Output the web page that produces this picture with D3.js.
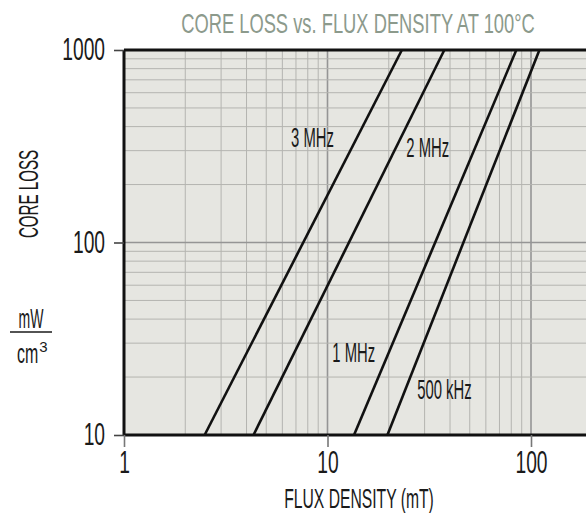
<html>
<head>
<script src="https://d3js.org/d3.v7.min.js"></script>
<style>body{margin:0;background:#fff;}</style>
</head>
<body>
<script>
var width = 586;
var height = 513;
var margin = {top: 50, right: 0, bottom: 78, left: 124};
var w = width - margin.left - margin.right;
var h = height - margin.top - margin.bottom;
var decade = 203.5;

// data
var xTicks = [1, 10, 100];
var yTicks = [10, 100, 1000];
var series = ["3 MHz", "2 MHz", "1 MHz", "500 kHz"];
var fluxAt10 = [2.49, 4.33, 13.5, 19.7];      // mT where loss = 10
var fluxAt1000 = [23.2, 37.5, 84.7, 110];     // mT where loss = 1000
var labelFlux = [6.62, 24.4, 10.56, 27.6];
var labelLoss = [313, 277, 24, 15.4];

var font = "'Liberation Sans',Arial,sans-serif";

var x = d3.scaleLog().domain([1, 1000]).range([0, 3 * decade]);
var y = d3.scaleLog().domain([10, 1000]).range([h, 0]);

var svg = d3.select("body").append("svg")
    .attr("width", width)
    .attr("height", height)
    .style("font-family", font);
var g = svg.append("g")
    .attr("transform", "translate(" + margin.left + "," + margin.top + ")");

// narrow the glyphs to mimic the condensed face of the original
function squish(sel, k) {
  sel.each(function() {
    var t = d3.select(this);
    var x0 = +(t.attr("x") || 0);
    var tr = t.attr("transform") || "";
    t.attr("x", x0 / k).attr("transform", tr + " scale(" + k + ",1)");
  });
}

// panel
g.append("rect").attr("width", w).attr("height", h).attr("fill", "#e6e6e1");

// grid
var vx = x.ticks().filter(function(d) { return d > 1 && d <= 100; });
g.append("g").selectAll("line").data(vx).enter().append("line")
  .attr("x1", function(d) { return x(d); }).attr("x2", function(d) { return x(d); })
  .attr("y1", 0).attr("y2", h)
  .attr("stroke", function(d) { return xTicks.indexOf(d) >= 0 ? "#959595" : "#b4b4b0"; })
  .attr("stroke-width", function(d) { return xTicks.indexOf(d) >= 0 ? 1.6 : 1; });
var hy = y.ticks().filter(function(d) { return d > 10 && d < 1000; });
g.append("g").selectAll("line").data(hy).enter().append("line")
  .attr("x1", 0).attr("x2", w)
  .attr("y1", function(d) { return y(d); }).attr("y2", function(d) { return y(d); })
  .attr("stroke", function(d) { return yTicks.indexOf(d) >= 0 ? "#959595" : "#b4b4b0"; })
  .attr("stroke-width", function(d) { return yTicks.indexOf(d) >= 0 ? 1.6 : 1; });

// curves
var curves = series.map(function(s, i) {
  return [[fluxAt10[i], 10], [fluxAt1000[i], 1000]];
});
var line = d3.line().x(function(d) { return x(d[0]); }).y(function(d) { return y(d[1]); });
g.append("g").selectAll("path").data(curves).enter().append("path")
  .attr("d", line)
  .attr("fill", "none")
  .attr("stroke", "#111")
  .attr("stroke-width", 2.6);

// frame
g.append("line").attr("x1", 0).attr("x2", w).attr("y1", 0).attr("y2", 0)
  .attr("stroke", "#111").attr("stroke-width", 3);
g.append("line").attr("x1", 0).attr("x2", w).attr("y1", h).attr("y2", h)
  .attr("stroke", "#111").attr("stroke-width", 3);
g.append("line").attr("x1", 0).attr("x2", 0).attr("y1", 0).attr("y2", h)
  .attr("stroke", "#111").attr("stroke-width", 3);

// axes
var xAxis = g.append("g")
  .attr("transform", "translate(0," + h + ")")
  .call(d3.axisBottom(x).tickValues(xTicks).tickFormat(d3.format("d")).tickSize(12).tickPadding(4));
xAxis.select(".domain").remove();
xAxis.selectAll(".tick line").attr("stroke", "#777").attr("stroke-width", 1.6);
xAxis.selectAll(".tick text")
  .attr("font-family", font).attr("font-size", 31).attr("fill", "#1a1a1a");
squish(xAxis.selectAll(".tick text"), 0.62);

var yAxis = g.append("g")
  .call(d3.axisLeft(y).tickValues(yTicks).tickFormat(d3.format("d")).tickSize(10).tickPadding(9));
yAxis.select(".domain").remove();
yAxis.selectAll(".tick line").attr("stroke", "#444").attr("stroke-width", 1.6);
yAxis.selectAll(".tick text")
  .attr("font-family", font).attr("font-size", 31).attr("fill", "#1a1a1a");
squish(yAxis.selectAll(".tick text"), 0.62);

// curve labels
var labels = g.append("g").selectAll("text").data(series).enter().append("text")
  .attr("x", function(d, i) { return x(labelFlux[i]); })
  .attr("y", function(d, i) { return y(labelLoss[i]); })
  .attr("font-size", 27)
  .attr("fill", "#1a1a1a")
  .text(function(d) { return d; });
squish(labels, 0.55);

// titles
var title = svg.append("text")
  .attr("x", 358).attr("y", 33)
  .attr("text-anchor", "middle")
  .attr("font-size", 28)
  .attr("fill", "#8c9a8c")
  .text("CORE LOSS vs. FLUX DENSITY AT 100°C");
squish(title, 0.655);

var xl = svg.append("text")
  .attr("x", 359).attr("y", 508)
  .attr("text-anchor", "middle")
  .attr("font-size", 28)
  .attr("fill", "#1a1a1a")
  .text("FLUX DENSITY (mT)");
squish(xl, 0.56);

var yl = svg.append("text")
  .attr("transform", "translate(38,194) rotate(-90)")
  .attr("text-anchor", "middle")
  .attr("font-size", 28)
  .attr("fill", "#1a1a1a")
  .text("CORE LOSS");
squish(yl, 0.54);

var unit = svg.append("g").attr("fill", "#1a1a1a");
var mw = unit.append("text").attr("x", 31).attr("y", 328)
  .attr("text-anchor", "middle").attr("font-size", 28).text("mW");
squish(mw, 0.5);
unit.append("line").attr("x1", 10).attr("x2", 52).attr("y1", 332).attr("y2", 332)
  .attr("stroke", "#1a1a1a").attr("stroke-width", 1.5);
var cm = unit.append("text").attr("x", 17).attr("y", 363)
  .attr("font-size", 28).text("cm");
var cmEnd = 17 + cm.node().getComputedTextLength() * 0.57;
squish(cm, 0.57);
unit.append("text").attr("x", cmEnd + 1).attr("y", 352)
  .attr("font-size", 15).text("3");
</script>
</body>
</html>
